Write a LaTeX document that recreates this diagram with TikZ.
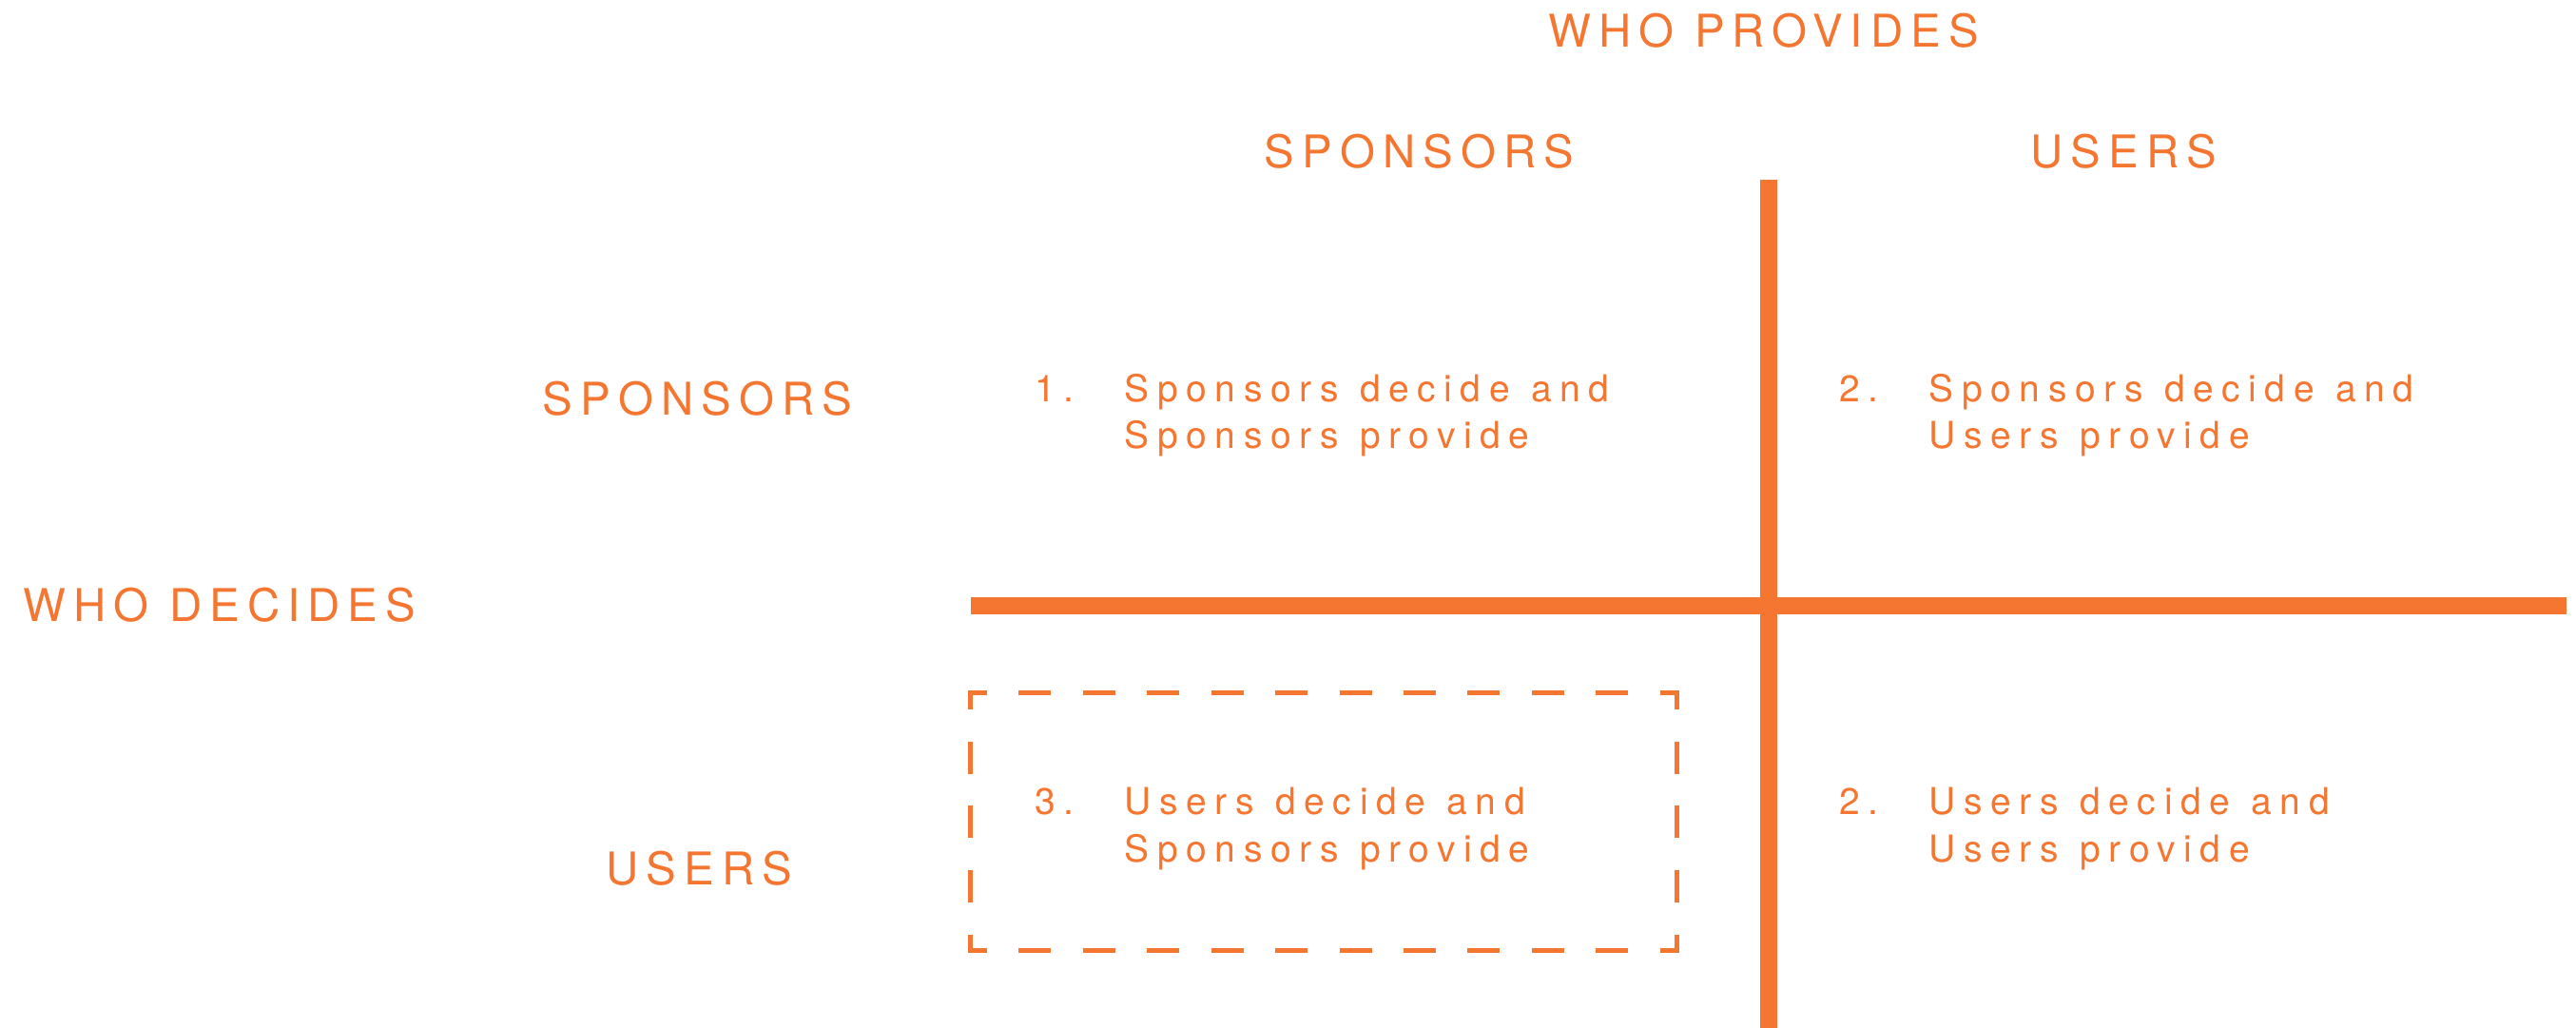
\documentclass[tikz,border=0pt]{standalone}
\usepackage{fontspec}
\setmainfont{TeX Gyre Heros}
\newfontfamily\headfam[LetterSpace=17]{TeX Gyre Heros}
\newfontfamily\bodyfam[LetterSpace=22,WordSpace=1.15]{TeX Gyre Heros}
\newcommand{\headfont}{\headfam\fontsize{13.5}{16}\selectfont}
\newcommand{\bodyfont}{\bodyfam\fontsize{11.1}{13.95}\selectfont}
\newcommand{\quadcell}[3]{\begin{tabular}[t]{@{}p{0.94cm}@{}l@{}}#1&#2\\&#3\end{tabular}}
\definecolor{FlameOrange}{RGB}{244,118,48}

\begin{document}
\begin{tikzpicture}[
		axishead/.style={text=FlameOrange, font=\headfont, inner sep=0pt, anchor=base west},
		quadtext/.style={text=FlameOrange, font=\bodyfont, inner sep=0pt, anchor=base west},
		axisbar/.style={draw=FlameOrange, line width=0.18cm},
		boxedge/.style={draw=FlameOrange, line width=0.05cm, line cap=rect,
			dash pattern=on 0.29cm off #1, dash phase=0.145cm}
		]
				
				\useasboundingbox (0,0) rectangle (27.09,10.81);
				
				% axis titles
				\node[axishead] (WP) at (16.28,10.31) {WHO PROVIDES};
				\node[axishead] (WD) at (0.24,4.27) {WHO DECIDES};
				
				\node[axishead] (PS) at (13.29,9.04) {SPONSORS};
				\node[axishead] (PU) at (21.35,9.04) {USERS};
				\node[axishead] (DS) at (5.70,6.44) {SPONSORS};
				\node[axishead] (DU) at (6.37,1.50) {USERS};
				
				% the four cells
				\node[quadtext] (C1) at (10.88,6.58)
				{\quadcell{1.}{Sponsors decide and}{Sponsors provide}};
				\node[quadtext] (C2) at (19.34,6.58)
				{\quadcell{2.}{Sponsors decide and}{Users provide}};
				\node[quadtext] (C3) at (10.88,2.24)
				{\quadcell{3.}{Users decide and}{Sponsors provide}};
				\node[quadtext] (C4) at (19.34,2.24)
				{\quadcell{2.}{Users decide and}{Users provide}};
				
				% axes
				\coordinate (Vt) at (18.60,8.92);
				\coordinate (Vb) at (18.60,0);
				\coordinate (Hl) at (10.21,4.44);
				\coordinate (Hr) at (26.99,4.44);
				\draw[axisbar] (Vt) -- (Vb);
				\draw[axisbar] (Hl) -- (Hr);
				
				% dashed frame round cell 3
				\coordinate (B1) at (10.205,3.52);
				\coordinate (B2) at (17.63,3.52);
				\coordinate (B3) at (17.63,0.81);
				\coordinate (B4) at (10.205,0.81);
				\draw[boxedge=0.385cm] (B1) -- (B2);
				\draw[boxedge=0.385cm] (B4) -- (B3);
				\draw[boxedge=0.3875cm] (B1) -- (B4);
				\draw[boxedge=0.3875cm] (B2) -- (B3);
				
\end{tikzpicture}
\end{document}
